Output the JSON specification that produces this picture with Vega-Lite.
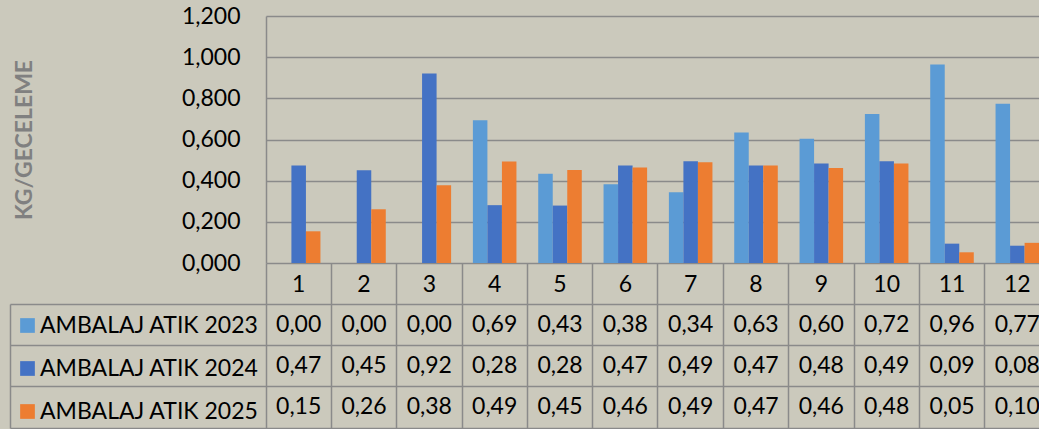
{
  "$schema": "https://vega.github.io/schema/vega-lite/v6.json",
  "width": 773,
  "height": 247,
  "autosize": {"type": "none"},
  "padding": {"left": 266, "top": 16, "right": 0, "bottom": 166},
  "background": "#cbc9bc",
  "config": {
    "view": {"stroke": null},
    "font": "Lato",
    "locale": {"number": {"decimal": ",", "thousands": ".", "grouping": [3], "currency": ["", ""]}}
  },
  "data": {
    "values": [
      {"month": 1, "series": "AMBALAJ ATIK 2023", "value": 0},
      {"month": 2, "series": "AMBALAJ ATIK 2023", "value": 0},
      {"month": 3, "series": "AMBALAJ ATIK 2023", "value": 0},
      {"month": 4, "series": "AMBALAJ ATIK 2023", "value": 0.694},
      {"month": 5, "series": "AMBALAJ ATIK 2023", "value": 0.434},
      {"month": 6, "series": "AMBALAJ ATIK 2023", "value": 0.382},
      {"month": 7, "series": "AMBALAJ ATIK 2023", "value": 0.344},
      {"month": 8, "series": "AMBALAJ ATIK 2023", "value": 0.634},
      {"month": 9, "series": "AMBALAJ ATIK 2023", "value": 0.604},
      {"month": 10, "series": "AMBALAJ ATIK 2023", "value": 0.724},
      {"month": 11, "series": "AMBALAJ ATIK 2023", "value": 0.964},
      {"month": 12, "series": "AMBALAJ ATIK 2023", "value": 0.774},
      {"month": 1, "series": "AMBALAJ ATIK 2024", "value": 0.474},
      {"month": 2, "series": "AMBALAJ ATIK 2024", "value": 0.451},
      {"month": 3, "series": "AMBALAJ ATIK 2024", "value": 0.921},
      {"month": 4, "series": "AMBALAJ ATIK 2024", "value": 0.281},
      {"month": 5, "series": "AMBALAJ ATIK 2024", "value": 0.279},
      {"month": 6, "series": "AMBALAJ ATIK 2024", "value": 0.474},
      {"month": 7, "series": "AMBALAJ ATIK 2024", "value": 0.494},
      {"month": 8, "series": "AMBALAJ ATIK 2024", "value": 0.474},
      {"month": 9, "series": "AMBALAJ ATIK 2024", "value": 0.484},
      {"month": 10, "series": "AMBALAJ ATIK 2024", "value": 0.494},
      {"month": 11, "series": "AMBALAJ ATIK 2024", "value": 0.094},
      {"month": 12, "series": "AMBALAJ ATIK 2024", "value": 0.084},
      {"month": 1, "series": "AMBALAJ ATIK 2025", "value": 0.154},
      {"month": 2, "series": "AMBALAJ ATIK 2025", "value": 0.261},
      {"month": 3, "series": "AMBALAJ ATIK 2025", "value": 0.378},
      {"month": 4, "series": "AMBALAJ ATIK 2025", "value": 0.493},
      {"month": 5, "series": "AMBALAJ ATIK 2025", "value": 0.452},
      {"month": 6, "series": "AMBALAJ ATIK 2025", "value": 0.464},
      {"month": 7, "series": "AMBALAJ ATIK 2025", "value": 0.49},
      {"month": 8, "series": "AMBALAJ ATIK 2025", "value": 0.474},
      {"month": 9, "series": "AMBALAJ ATIK 2025", "value": 0.462},
      {"month": 10, "series": "AMBALAJ ATIK 2025", "value": 0.484},
      {"month": 11, "series": "AMBALAJ ATIK 2025", "value": 0.052},
      {"month": 12, "series": "AMBALAJ ATIK 2025", "value": 0.098}
    ]
  },
  "layer": [
    {
      "mark": {"type": "bar", "clip": false},
      "encoding": {
        "x": {
          "field": "month", "type": "ordinal",
          "scale": {"type": "band", "domain": [1,2,3,4,5,6,7,8,9,10,11,12], "range": [0, 784], "paddingInner": 0, "paddingOuter": 0},
          "axis": {
            "orient": "bottom", "title": null, "domain": false,
            "ticks": true, "tickSize": 165, "tickColor": "#8a8a8a", "tickWidth": 1.5,
            "bandPosition": 1, "tickExtra": true,
            "labelPadding": -144, "labelBaseline": "middle",
            "labelAngle": 0, "labelFontSize": 23, "labelColor": "#000000", "labelFont": "Lato"
          }
        },
        "xOffset": {
          "field": "series", "type": "nominal",
          "scale": {"paddingOuter": 0.75, "paddingInner": 0}
        },
        "y": {
          "field": "value", "type": "quantitative",
          "scale": {"domain": [0, 1.2], "nice": false},
          "axis": {
            "values": [0, 0.2, 0.4, 0.6, 0.8, 1.0, 1.2], "format": ".3f",
            "grid": true, "gridColor": "#8a8a8a", "gridWidth": 1.5,
            "domain": true, "domainColor": "#8a8a8a", "domainWidth": 1.5,
            "ticks": false, "tickSize": 0, "labelPadding": 26,
            "labelFontSize": 23, "labelColor": "#000000", "labelFont": "Lato",
            "title": "KG/GECELEME", "titleColor": "#808080", "titleFontWeight": "bold",
            "titleFontSize": 23, "titleFont": "Lato", "titlePadding": 145
          }
        },
        "color": {
          "field": "series", "type": "nominal",
          "scale": {"domain": ["AMBALAJ ATIK 2023", "AMBALAJ ATIK 2024", "AMBALAJ ATIK 2025"], "range": ["#5b9bd5", "#4472c4", "#ed7d31"]},
          "legend": {
            "orient": "none", "legendX": -250, "legendY": 298, "title": null,
            "symbolType": "square", "symbolSize": 216, "symbolStrokeWidth": 0, "symbolOpacity": 1,
            "labelFontSize": 23, "labelColor": "#000000", "labelFont": "Lato", "labelLimit": 400,
            "labelOffset": 1, "rowPadding": 19
          }
        }
      }
    },
    {
      "mark": {"type": "text", "fontSize": 23, "color": "#000000", "baseline": "middle", "align": "center", "font": "Lato"},
      "encoding": {
        "x": {"field": "month", "type": "ordinal"},
        "y": {
          "field": "series", "type": "nominal",
          "scale": {"type": "band", "domain": ["AMBALAJ ATIK 2023", "AMBALAJ ATIK 2024", "AMBALAJ ATIK 2025"], "range": [288, 412], "paddingInner": 0, "paddingOuter": 0},
          "axis": {
            "orient": "left", "offset": 256, "title": null, "labels": false, "grid": false,
            "domain": true, "domainColor": "#8a8a8a", "domainWidth": 1.5,
            "ticks": true, "tickSize": -1040, "tickColor": "#8a8a8a", "tickWidth": 1.5,
            "bandPosition": 1, "tickExtra": true
          }
        },
        "text": {"field": "value", "type": "quantitative", "format": ".2f"}
      }
    }
  ],
  "resolve": {"scale": {"y": "independent"}, "axis": {"y": "independent"}}
}
